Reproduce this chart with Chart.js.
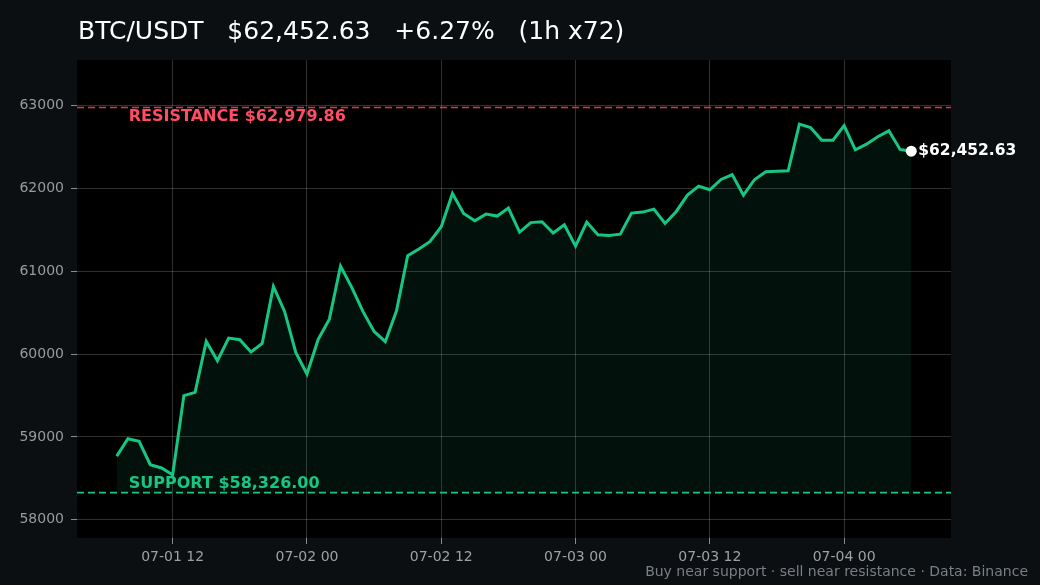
<!DOCTYPE html>
<html>
<head>
<meta charset="utf-8">
<script src="https://cdn.jsdelivr.net/npm/chart.js@4.4.1/dist/chart.umd.min.js"></script>
<style>
  html, body { margin: 0; padding: 0; background: #0b0f12; }
  canvas { display: block; }
</style>
</head>
<body>
<canvas id="btc-chart" width="1040" height="585"></canvas>
<script>
// --- Data ---
const titleText = 'BTC/USDT   $62,452.63   +6.27%   (1h x72)';
const footerText = 'Buy near support \u00b7 sell near resistance \u00b7 Data: Binance';

// hourly closes, 07-01 07:00 -> 07-04 06:00
const prices = [
  58768, 58978, 58946, 58664, 58624, 58543, 59498, 59538, 60153, 59920,
  60194, 60174, 60025, 60130, 60818, 60516, 60021, 59759, 60177, 60423,
  61064, 60806, 60516, 60274, 60150, 60524, 61188, 61269, 61361, 61539,
  61941, 61699, 61611, 61692, 61668, 61764, 61474, 61589, 61599, 61463,
  61563, 61305, 61595, 61442, 61434, 61450, 61704, 61716, 61752, 61579,
  61724, 61921, 62030, 61986, 62110, 62169, 61921, 62110, 62203, 62211,
  62215, 62779, 62738, 62585, 62585, 62762, 62469, 62537, 62626, 62698,
  62473, 62452.63
];
const supportLevel = 58326.00;
const resistanceLevel = 62979.86;

const tickHours = [5, 17, 29, 41, 53, 65];
const tickLabels = ['07-01 12', '07-02 00', '07-02 12', '07-03 00', '07-03 12', '07-04 00'];
const yTicks = [58000, 59000, 60000, 61000, 62000, 63000];

// --- Colours ---
const GREEN = '#16c784';
const RED_LINE = '#d63a50';
const RED_TEXT = '#ff4d66';
const GRID = 'rgba(255,255,255,0.19)';

const xPad = (prices.length - 1) * 0.05;
const xMin = -xPad;
const xMax = prices.length - 1 + xPad;

const fmtUsd = v => '$' + v.toLocaleString('en-US', { minimumFractionDigits: 2, maximumFractionDigits: 2 });

const pricePoints = prices.map((p, i) => ({ x: i, y: p }));
const lastIdx = prices.length - 1;

// background, title, level labels, footer
const decorPlugin = {
  id: 'decor',
  beforeDraw(chart) {
    const { ctx, chartArea: a } = chart;
    ctx.save();
    ctx.fillStyle = '#0b0f12';
    ctx.fillRect(0, 0, chart.width, chart.height);
    ctx.fillStyle = '#000';
    ctx.fillRect(a.left, a.top, a.right - a.left, a.bottom - a.top);
    ctx.restore();
  },
  afterDraw(chart) {
    const { ctx, chartArea: a } = chart;
    const xs = chart.scales.x, ys = chart.scales.y;
    ctx.save();
    ctx.textAlign = 'left';
    ctx.textBaseline = 'alphabetic';

    ctx.fillStyle = '#ffffff';
    ctx.font = '25px "DejaVu Sans", sans-serif';
    ctx.fillText(titleText, a.left + 1, 39);

    ctx.font = 'bold 16px "DejaVu Sans", sans-serif';
    ctx.fillStyle = RED_TEXT;
    ctx.textBaseline = 'top';
    ctx.fillText('RESISTANCE ' + fmtUsd(resistanceLevel), xs.getPixelForValue(0) + 12, ys.getPixelForValue(resistanceLevel) + 1);

    ctx.fillStyle = GREEN;
    ctx.textBaseline = 'bottom';
    ctx.fillText('SUPPORT ' + fmtUsd(supportLevel), xs.getPixelForValue(0) + 12, ys.getPixelForValue(supportLevel) - 1);

    ctx.fillStyle = '#ffffff';
    ctx.font = 'bold 15.5px "DejaVu Sans", sans-serif';
    ctx.textBaseline = 'middle';
    ctx.fillText(fmtUsd(prices[lastIdx]), xs.getPixelForValue(lastIdx) + 7, ys.getPixelForValue(prices[lastIdx]));

    ctx.fillStyle = '#7a7f85';
    ctx.font = '14px "DejaVu Sans", sans-serif';
    ctx.textAlign = 'right';
    ctx.textBaseline = 'alphabetic';
    ctx.fillText(footerText, chart.width - 12, 576);
    ctx.restore();
  }
};

new Chart(document.getElementById('btc-chart'), {
  type: 'line',
  data: {
    datasets: [
      {
        label: 'last',
        type: 'scatter',
        data: [pricePoints[lastIdx]],
        pointRadius: 5.5,
        pointBackgroundColor: '#ffffff',
        pointBorderWidth: 0,
        order: 0
      },
      {
        label: 'BTC/USDT',
        data: pricePoints,
        borderColor: GREEN,
        borderWidth: 3,
        pointRadius: 0,
        tension: 0,
        fill: { value: supportLevel },
        backgroundColor: 'rgba(22,199,132,0.085)',
        order: 1
      },
      {
        label: 'resistance',
        data: [{ x: xMin, y: resistanceLevel }, { x: xMax, y: resistanceLevel }],
        borderColor: RED_LINE,
        borderWidth: 1.6,
        borderDash: [7, 4],
        pointRadius: 0,
        fill: false,
        order: 2
      },
      {
        label: 'support',
        data: [{ x: xMin, y: supportLevel }, { x: xMax, y: supportLevel }],
        borderColor: GREEN,
        borderWidth: 1.6,
        borderDash: [7, 4],
        pointRadius: 0,
        fill: false,
        order: 2
      }
    ]
  },
  options: {
    responsive: false,
    animation: false,
    devicePixelRatio: 1,
    layout: { padding: { top: 60, right: 89, left: 0, bottom: 0 } },
    plugins: {
      legend: { display: false },
      tooltip: { enabled: false },
      title: { display: false }
    },
    scales: {
      x: {
        type: 'linear',
        min: xMin,
        max: xMax,
        afterBuildTicks: s => { s.ticks = tickHours.map(v => ({ value: v })); },
        afterFit: s => { s.height = 47; },
        grid: { color: GRID, tickColor: '#8a8a8a', tickLength: 6, drawTicks: true },
        border: { display: false },
        ticks: {
          color: '#a0a0a0',
          font: { family: 'DejaVu Sans', size: 14 },
          padding: 5,
          maxRotation: 0,
          callback: v => tickLabels[tickHours.indexOf(v)]
        }
      },
      y: {
        min: 57778,
        max: 63554,
        afterBuildTicks: s => { s.ticks = yTicks.map(v => ({ value: v })); },
        afterFit: s => { s.width = 77; },
        grid: { color: GRID, tickColor: '#8a8a8a', tickLength: 6, drawTicks: true },
        border: { display: false },
        ticks: {
          color: '#9a9a9a',
          font: { family: 'DejaVu Sans', size: 14 },
          padding: 7,
          callback: v => String(v)
        }
      }
    }
  },
  plugins: [decorPlugin]
});
</script>
</body>
</html>
